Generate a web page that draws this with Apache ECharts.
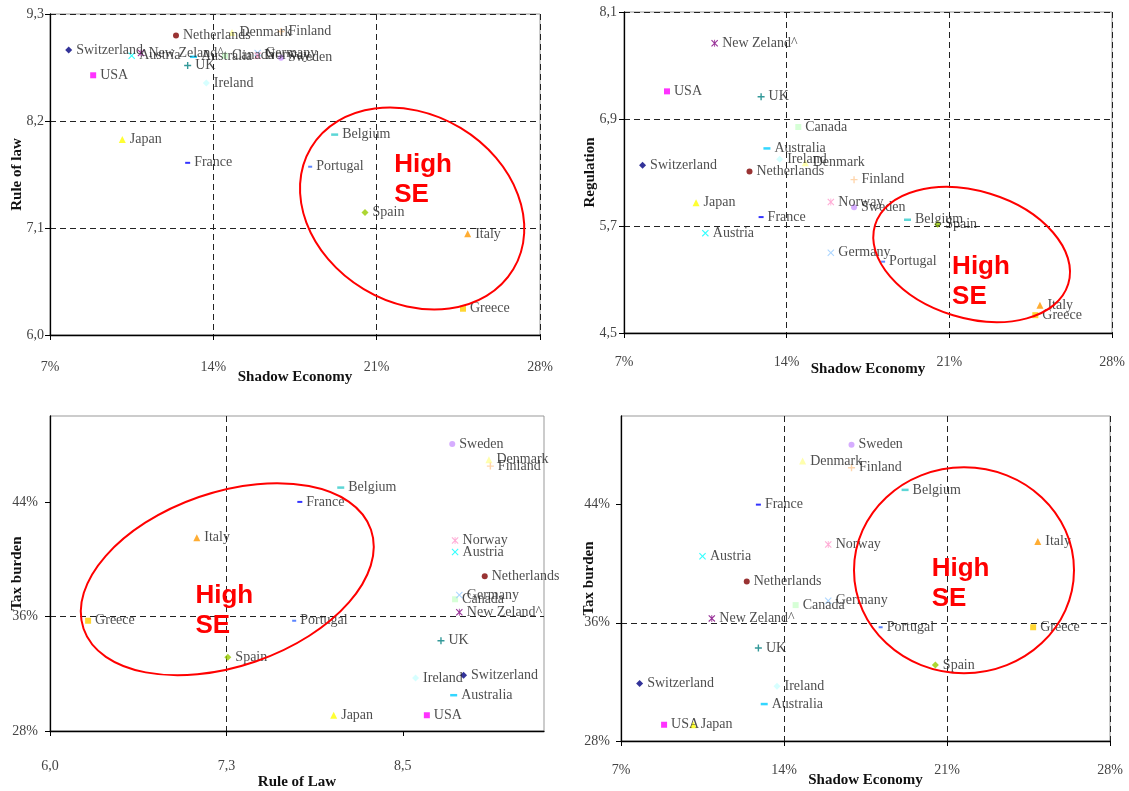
<!DOCTYPE html>
<html>
<head>
<meta charset="utf-8">
<script src="https://cdn.jsdelivr.net/npm/echarts@6/dist/echarts.min.js"></script>
<style>
html,body{margin:0;padding:0;background:#fff;}
#chart{width:1129px;height:791px;}
</style>
</head>
<body>
<div id="chart"></div>
<script>
// ---------------- DATA ----------------
const countries = ['Switzerland','Netherlands','USA','Austria','New Zeland^','Australia','UK','Ireland','Japan','France',
  'Denmark','Canada','Finland','Germany','Norway','Sweden','Belgium','Portugal','Spain','Italy','Greece'];
const shadowEconomy = [7.8, 12.4, 8.85, 10.5, 10.9, 13.15, 12.9, 13.7, 10.1, 12.9,
  14.8, 14.5, 16.9, 15.9, 15.9, 16.9, 19.2, 18.15, 20.5, 24.9, 24.7];
const ruleOfLaw = [8.93, 9.08, 8.67, 8.87, 8.90, 8.86, 8.77, 8.59, 8.01, 7.77,
  9.11, 8.87, 9.12, 8.90, 8.87, 8.85, 8.06, 7.73, 7.26, 7.04, 6.27];
const regulation = [6.38, 6.31, 7.21, 5.62, 7.75, 6.57, 7.15, 6.45, 5.96, 5.80,
  6.41, 6.81, 6.22, 5.40, 5.97, 5.91, 5.77, 5.30, 5.72, 4.81, 4.70];
const taxBurden = [31.9, 38.8, 29.1, 40.5, 36.3, 30.5, 34.3, 31.7, 29.1, 44.0,
  46.95, 37.2, 46.5, 37.5, 41.3, 48.05, 45.0, 35.7, 33.15, 41.5, 35.7];

// tick labels
const seTicks = [7, 14, 21, 28];
const rolTicksY = [6.0, 7.1, 8.2, 9.3];
const regTicks = [4.5, 5.7, 6.9, 8.1];
const taxTicks = [28, 36, 44];
const taxMax = 50;
const rolTicksX = [6.0, 7.25, 8.5];
const rolMaxX = 9.5;

// ---------------- STYLES ----------------
const PLUS = 'path://M4,0H6V4H10V6H6V10H4V6H0V4H4Z';
const XMARK = 'path://M0,1.1L1.1,0L5,3.9L8.9,0L10,1.1L6.1,5L10,8.9L8.9,10L5,6.1L1.1,10L0,8.9L3.9,5Z';
const STAR = 'path://M0,1.1L1.1,0L5,3.9L8.9,0L10,1.1L6.1,5L10,8.9L8.9,10L5,6.1L1.1,10L0,8.9L3.9,5Z M4.4,0H5.6V10H4.4Z';
const markerStyles = [
  {s:'diamond', c:'#000080', z:7},
  {s:'circle', c:'#800000', z:6},
  {s:'rect', c:'#FF00FF', z:6},
  {s:XMARK, c:'#00FFFF', z:7},
  {s:STAR, c:'#800080', z:7},
  {s:'rect', c:'#00CCFF', z:[7,2.5]},
  {s:PLUS, c:'#008080', z:7},
  {s:'diamond', c:'#CCFFFF', z:7},
  {s:'triangle', c:'#FFFF00', z:7},
  {s:'rect', c:'#0000FF', z:[5,2]},
  {s:'triangle', c:'#FFFF99', z:7},
  {s:'rect', c:'#CCFFCC', z:6},
  {s:PLUS, c:'#FFCC99', z:7},
  {s:XMARK, c:'#99CCFF', z:7},
  {s:STAR, c:'#FF99CC', z:7},
  {s:'circle', c:'#CC99FF', z:6},
  {s:'rect', c:'#33CCCC', z:[7,2.5]},
  {s:'rect', c:'#3366FF', z:[4,2]},
  {s:'diamond', c:'#99CC00', z:7},
  {s:'triangle', c:'#FF9900', z:7},
  {s:'rect', c:'#FFCC00', z:6}
];

const SERIF = '"Liberation Serif","Times New Roman",serif';
const pct = v => v + '%';
const dec = v => v.toFixed(1).replace('.', ',');

function points(xs, ys) {
  return countries.map((c, i) => ({
    name: c,
    value: [xs[i], ys[i]],
    symbol: markerStyles[i].s,
    symbolSize: markerStyles[i].z,
    itemStyle: {color: markerStyles[i].c}
  }));
}

function valueAxis(ticks, max, fmt, gridIndex, name, gap, margin) {
  const onTick = v => ticks.some(t => Math.abs(t - v) < 1e-6);
  const maxIsTick = onTick(max);
  const tick = {show: true, length: 5, lineStyle: {color: '#000'}};
  if (!maxIsTick) tick.customValues = ticks.slice();
  return {
    type: 'value',
    gridIndex: gridIndex,
    min: ticks[0],
    max: max,
    interval: +(ticks[1] - ticks[0]).toFixed(4),
    axisLine: {show: true, onZero: false, lineStyle: {color: '#000', width: 1.3}},
    axisTick: tick,
    axisLabel: {
      color: '#444', fontFamily: SERIF, fontSize: 14, margin: margin,
      formatter: v => onTick(v) ? fmt(v) : ''
    },
    splitLine: {show: true, showMaxLine: maxIsTick, lineStyle: {color: '#222', type: [6, 4], width: 1}},
    name: name,
    nameGap: gap,
    nameMoveOverlap: false,
    nameLocation: 'middle',
    nameTextStyle: {fontFamily: SERIF, fontSize: 15, fontWeight: 'bold', color: '#111'}
  };
}

const grids = [
  {left: 50, top: 14, width: 490, height: 321},
  {left: 624, top: 12, width: 488, height: 321},
  {left: 50, top: 416, width: 494, height: 315},
  {left: 621, top: 416, width: 489, height: 325}
].map(g => Object.assign({show: true, borderColor: '#999', borderWidth: 1,
  backgroundColor: 'transparent', containLabel: false, outerBoundsMode: 'none'}, g));

const labelCfg = {show: true, position: 'right', distance: 4, formatter: '{b}',
  fontFamily: SERIF, fontSize: 14, color: '#222'};

function scatter(gi, xs, ys) {
  return {
    type: 'scatter', xAxisIndex: gi, yAxisIndex: gi,
    data: points(xs, ys),
    label: labelCfg,
    emphasis: {disabled: true},
    animation: false
  };
}

const seMax = seTicks[seTicks.length - 1];
const option = {
  animation: false,
  backgroundColor: '#fff',
  grid: grids,
  xAxis: [
    valueAxis(seTicks, seMax, pct, 0, 'Shadow Economy', 35, 25),
    valueAxis(seTicks, seMax, pct, 1, 'Shadow Economy', 29, 22),
    valueAxis(rolTicksX, rolMaxX, dec, 2, 'Rule of Law', 44, 28),
    valueAxis(seTicks, seMax, pct, 3, 'Shadow Economy', 32, 22)
  ],
  yAxis: [
    valueAxis(rolTicksY, rolTicksY[rolTicksY.length-1], dec, 0, 'Rule of law', 25, 6),
    valueAxis(regTicks, regTicks[regTicks.length-1], dec, 1, 'Regulation', 26, 7),
    valueAxis(taxTicks, taxMax, pct, 2, 'Tax burden', 25, 12),
    valueAxis(taxTicks, taxMax, pct, 3, 'Tax burden', 24, 11)
  ],
  series: [
    scatter(0, shadowEconomy, ruleOfLaw),
    scatter(1, shadowEconomy, regulation),
    scatter(2, ruleOfLaw, taxBurden),
    scatter(3, shadowEconomy, taxBurden)
  ]
};

const chart = echarts.init(document.getElementById('chart'), null, {renderer: 'canvas'});
chart.setOption(option);

// ---------------- ANNOTATIONS (data-anchored) ----------------
const annotations = [
  {grid: 0, center: [22.52, 7.30], rx: 118, ry: 94, rot: -31, textAt: [21.75, 7.60]},
  {grid: 1, center: [21.96, 5.38], rx: 101, ry: 63.5, rot: -17, textAt: [21.12, 5.07]},
  {grid: 2, center: [7.256, 38.6], rx: 152, ry: 87, rot: 19, textAt: [7.03, 36.37]},
  {grid: 3, center: [21.73, 39.56], rx: 110, ry: 103, rot: 0, textAt: [20.34, 38.63]}
];
const graphics = [];
annotations.forEach(a => {
  const c = chart.convertToPixel({gridIndex: a.grid}, a.center);
  const t = chart.convertToPixel({gridIndex: a.grid}, a.textAt);
  graphics.push({
    type: 'ellipse', x: c[0], y: c[1], rotation: a.rot * Math.PI / 180, z: 20,
    shape: {cx: 0, cy: 0, rx: a.rx, ry: a.ry},
    style: {fill: 'none', stroke: '#FF0000', lineWidth: 2}
  });
  graphics.push({
    type: 'text', x: t[0], y: t[1], z: 21,
    style: {text: 'High\nSE', fill: '#FF0000', fontSize: 26, fontWeight: 'bold',
      fontFamily: '"Liberation Sans", Arial, sans-serif', align: 'left', verticalAlign: 'middle', lineHeight: 30}
  });
});
chart.setOption({graphic: graphics});
</script>
</body>
</html>
